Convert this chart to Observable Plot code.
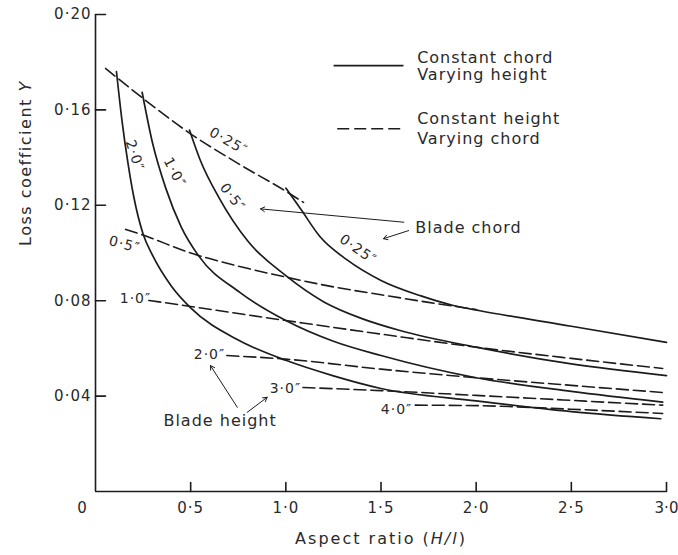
<!DOCTYPE html>
<html>
<head>
<meta charset="utf-8">
<script src="https://cdn.jsdelivr.net/npm/d3@7"></script>
<script src="https://cdn.jsdelivr.net/npm/@observablehq/plot@0.6"></script>
<style>
html, body { margin: 0; padding: 0; background: #fff; }
#chart svg { display: block; }
</style>
</head>
<body>
<div id="chart"></div>
<script>
// ---------- Data ----------
// Axis ticks
const xTicks = [0.5, 1.0, 1.5, 2.0, 2.5, 3.0];
const xTickLabels = ["0·5", "1·0", "1·5", "2·0", "2·5", "3·0"];
const yTicks = [0.04, 0.08, 0.12, 0.16, 0.20];
const yTickLabels = ["0·04", "0·08", "0·12", "0·16", "0·20"];
const originLabel = "0";

// Solid curves: constant chord, varying height  [aspect ratio, loss coefficient]
const chord_2_0 = [[0.110,0.1761],[0.14,0.155],[0.17,0.138],[0.20,0.124],[0.25,0.108],[0.30,0.099],[0.40,0.086],[0.50,0.077],[0.75,0.0635],[1.00,0.055],[1.25,0.0485],[1.50,0.0432],[2.00,0.0380],[2.50,0.0335],[2.97,0.0305]];
const chord_1_0 = [[0.245,0.1674],[0.30,0.146],[0.37,0.127],[0.45,0.111],[0.54,0.099],[0.76,0.0834],[1.00,0.0717],[1.25,0.063],[1.50,0.057],[2.00,0.0477],[2.50,0.042],[2.98,0.0375]];
const chord_0_5 = [[0.494,0.1515],[0.55,0.139],[0.65,0.123],[0.80,0.105],[1.00,0.0905],[1.20,0.0795],[1.40,0.0725],[1.60,0.0675],[2.00,0.0605],[2.50,0.0535],[3.00,0.0486]];
const chord_0_25 = [[1.0,0.1272],[1.08,0.1182],[1.18,0.1068],[1.32,0.0972],[1.50,0.0885],[1.71,0.082],[1.88,0.078],[2.02,0.0758],[2.50,0.0693],[3.00,0.0625]];

// Dashed curves: constant height, varying chord
const height_0_25 = [[0.053,0.1774],[0.25,0.1648],[0.49,0.1505],[0.75,0.1375],[1.01,0.1254],[1.093,0.1212]];
const height_0_5 = [[0.158,0.1099],[0.25,0.1075],[0.50,0.100],[0.75,0.0945],[1.00,0.0899],[1.25,0.0858],[1.50,0.0825],[1.75,0.0793],[2.00,0.0763]];
const height_1_0 = [[0.28,0.0801],[0.50,0.0776],[0.75,0.0746],[1.00,0.0717],[1.25,0.0688],[1.50,0.066],[2.00,0.0605],[2.50,0.0558],[2.98,0.0516]];
const height_2_0 = [[0.69,0.057],[1.00,0.0555],[1.50,0.0513],[2.00,0.0477],[2.50,0.0445],[2.98,0.0415]];
const height_3_0 = [[1.09,0.0436],[1.50,0.0423],[2.00,0.0403],[2.50,0.0382],[2.98,0.0362]];
const height_4_0 = [[1.68,0.0362],[2.00,0.036],[2.50,0.0345],[2.98,0.0327]];

// Curve labels (placed in data coordinates)
const curveLabelText  = ["2·0″", "1·0″", "0·5″", "0·25″", "0·25″", "0·5″", "1·0″", "2·0″", "3·0″", "4·0″"];
const curveLabelX     = [0.205, 0.415, 0.72, 0.699, 1.379, 0.152, 0.21, 0.599, 0.998, 1.582];
const curveLabelY     = [0.1409, 0.1338, 0.1233, 0.1468, 0.1015, 0.1036, 0.0809, 0.0574, 0.0432, 0.0344];
const curveLabelAngle = [72, 62, 52, 30, 35, 15, 0, 0, 0, 0];

// Legend / annotation texts
const legendText = ["Constant chord", "Varying height", "Constant height", "Varying chord"];
const noteText = ["Blade chord", "Blade height"];
const xTitle = "Aspect ratio (H/l)";
const yTitle = "Loss coefficient Y";

// ---------- Build tables ----------
const toRows = (name, pts) => pts.map(([x, y]) => ({name, x, y}));
const solidRows = [
  ...toRows("c2.0", chord_2_0), ...toRows("c1.0", chord_1_0),
  ...toRows("c0.5", chord_0_5), ...toRows("c0.25", chord_0_25)
];
const dashedRows = [
  ...toRows("h0.25", height_0_25), ...toRows("h0.5", height_0_5),
  ...toRows("h1.0", height_1_0), ...toRows("h2.0", height_2_0),
  ...toRows("h3.0", height_3_0), ...toRows("h4.0", height_4_0)
];
const curveLabels = curveLabelText.map((t, i) => ({t, x: curveLabelX[i], y: curveLabelY[i], a: curveLabelAngle[i]}));

// annotation layout (data coordinates)
const legendLines = [
  {x1: 1.251, x2: 1.618, y: 0.1786},
  {x1: 1.27, x2: 1.618, y: 0.1521}
];
const legendRows = legendText.map((t, i) => ({t, x: 1.69, y: [0.182, 0.1745, 0.1564, 0.148][i]}));
const noteRows = [{t: noteText[0], x: 1.68, y: 0.1107}, {t: noteText[1], x: 0.357, y: 0.0298}];
const arrowRows = [
  {x1: 1.62, y1: 0.1129, x2: 0.867, y2: 0.1185},
  {x1: 1.645, y1: 0.1094, x2: 1.513, y2: 0.106},
  {x1: 0.745, y1: 0.0353, x2: 0.604, y2: 0.0528},
  {x1: 0.797, y1: 0.0332, x2: 0.902, y2: 0.0395}
];

const ink = "#1c1c1c";
const textInk = "#2a2a2a";
const W = 678, H = 555, mL = 95, mR = 12, mT = 14, mB = 64;
const xDomain = [0, 3], yDomain = [0, 0.2];
const frameW = W - mL - mR, frameH = H - mT - mB;
// inward tick lengths (10px and 9px) expressed in scale units
const yTickLen = 10 * (xDomain[1] - xDomain[0]) / frameW;
const xTickLen = 9 * (yDomain[1] - yDomain[0]) / frameH;
const tickRows = [
  ...yTicks.flatMap(t => [{k: "y" + t, x: 0, y: t}, {k: "y" + t, x: yTickLen, y: t}]),
  ...xTicks.flatMap(t => [{k: "x" + t, x: t, y: 0}, {k: "x" + t, x: t, y: xTickLen}])
];

const svg = Plot.plot({
  width: W,
  height: H,
  marginLeft: mL,
  marginRight: mR,
  marginTop: mT,
  marginBottom: mB,
  x: {domain: xDomain},
  y: {domain: yDomain},
  style: {fontFamily: "'DejaVu Sans', sans-serif", fontSize: "15px", color: textInk, background: "#fff", letterSpacing: "1px", overflow: "visible"},
  marks: [
    Plot.ruleX([0], {stroke: ink, strokeWidth: 1.6}),
    Plot.ruleY([0], {stroke: ink, strokeWidth: 1.6}),
    // inward tick marks
    Plot.line(tickRows, {x: "x", y: "y", z: "k", stroke: ink, strokeWidth: 1.6}),
    // tick labels
    Plot.axisY({ticks: yTicks, tickSize: 0, tickPadding: 4, tickFormat: d => yTickLabels[yTicks.indexOf(d)], label: null, fontSize: 15, fill: textInk}),
    Plot.axisX({ticks: xTicks, tickSize: 0, tickPadding: 11, tickFormat: d => xTickLabels[xTicks.indexOf(d)], label: null, fontSize: 15, fill: textInk}),
    Plot.text([0], {x: d => d, y: d => d, text: () => originLabel, dx: -13, dy: 17, fontSize: 15, fill: textInk}),
    Plot.line(solidRows, {x: "x", y: "y", z: "name", curve: "monotone-x", stroke: ink, strokeWidth: 1.7}),
    Plot.line(dashedRows, {x: "x", y: "y", z: "name", curve: "monotone-x", stroke: ink, strokeWidth: 1.6, strokeDasharray: "12,5"}),
    Plot.text(curveLabels, {x: "x", y: "y", text: "t", rotate: "a", fontSize: 14, fill: textInk}),
    Plot.link([legendLines[0]], {x1: "x1", x2: "x2", y1: "y", y2: "y", stroke: ink, strokeWidth: 1.7}),
    Plot.link([legendLines[1]], {x1: "x1", x2: "x2", y1: "y", y2: "y", stroke: ink, strokeWidth: 1.6, strokeDasharray: "12,5"}),
    Plot.text(legendRows, {x: "x", y: "y", text: "t", textAnchor: "start", fontSize: 16, fill: textInk}),
    Plot.text(noteRows, {x: "x", y: "y", text: "t", textAnchor: "start", fontSize: 16, fill: textInk}),
    Plot.arrow(arrowRows, {x1: "x1", y1: "y1", x2: "x2", y2: "y2", stroke: ink, strokeWidth: 1, headLength: 7}),
    Plot.text([xTitle], {frameAnchor: "bottom", dy: 52, fontSize: 16, fill: textInk}),
    Plot.text([yTitle], {frameAnchor: "left", dx: -70, dy: -7, rotate: -90, fontSize: 16, fill: textInk})
  ]
});

// italic variable letters in axis titles; tighter spacing on the last x tick label
d3.select(svg).selectAll("text").each(function () {
  const s = this.textContent;
  if (s === xTitle) {
    const el = d3.select(this); el.text("");
    el.append("tspan").text("Aspect ratio (");
    el.append("tspan").attr("font-style", "italic").text("H/l");
    el.append("tspan").text(")");
    el.attr("letter-spacing", "2px");
  } else if (s === yTitle) {
    const el = d3.select(this); el.text("");
    el.append("tspan").text("Loss coefficient ");
    el.append("tspan").attr("font-style", "italic").text("Y");
    el.attr("letter-spacing", "1.5px");
  } else if (s === xTickLabels[xTickLabels.length - 1]) {
    d3.select(this).attr("letter-spacing", "0px");
  }
});

document.getElementById("chart").appendChild(svg);
</script>
</body>
</html>
